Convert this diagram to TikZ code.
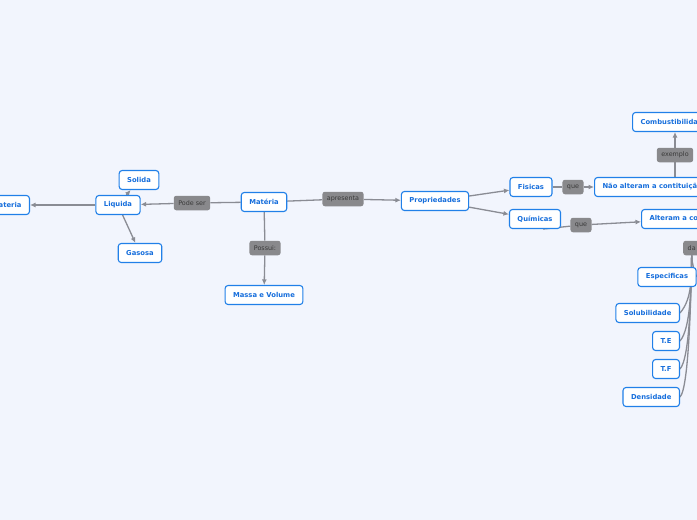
\documentclass[tikz,border=0pt]{standalone}
\usepackage{fontspec}
\setsansfont{DejaVu Sans}
\usetikzlibrary{arrows.meta}
\pgfdeclarelayer{fundo}
\pgfdeclarelayer{linhas}
\pgfsetlayers{fundo,linhas,main}
\definecolor{fundo}{RGB}{242,245,253}
\definecolor{azul}{RGB}{33,128,232}
\definecolor{azultxt}{RGB}{22,110,220}
\definecolor{cinza}{RGB}{137,137,140}
\definecolor{cinzatxt}{RGB}{58,58,58}
\definecolor{linha}{RGB}{138,140,148}
\tikzset{
  box/.style={draw=azul, line width=1.1pt, fill=white, rounded corners=3pt, text=azultxt,
    font=\fontsize{6.8}{8}\sffamily\bfseries, inner xsep=8pt, inner ysep=0pt, minimum height=19pt},
  lbl/.style={fill=cinza, rounded corners=2.5pt, text=cinzatxt,
    font=\fontsize{6.4}{8}\sffamily, inner xsep=4.5pt, inner ysep=0pt, minimum height=14.5pt},
  link/.style={draw=linha, line width=1.3pt},
  seta/.style={link, -{Latex[length=5.5pt,width=5pt]}}
}
\begin{document}
\begin{tikzpicture}[x=1pt,y=-1pt]
% Fundo
\begin{pgfonlayer}{fundo}
\fill[fundo] (0,0) rectangle (697,520);
\end{pgfonlayer}
\useasboundingbox (0,0) rectangle (697,520);

% Materia e estados
\node [box, anchor=east] (materiaesq) at (30,205) {Materia};
\node [box] (liquida) at (118,205) {Liquida};
\node [box] (solida) at (139,180) {Solida};
\node [box] (gasosa) at (140,253) {Gasosa};
\node [lbl] (podeser) at (192,203) {Pode ser};
\node [box] (materia) at (264,202) {Matéria};
\node [lbl] (possui) at (265,248) {Possui:};
\node [box] (massa) at (264,295) {Massa e Volume};

% Propriedades
\node [lbl] (apresenta) at (343,199) {apresenta};
\node [box] (prop) at (435,201) {Propriedades};
\node [box] (fisicas) at (531,187) {Fisicas};
\node [box] (quimicas) at (535,219) {Químicas};
\node [lbl] (que1) at (573,187) {que};
\node [box, anchor=west] (naoalt) at (594,187) {Não alteram a contituição};
\node [lbl] (exemplo) at (675,155) {exemplo};
\node [box, anchor=west] (combust) at (632,122) {Combustibilidade};
\node [lbl] (que2) at (581,225) {que};
\node [box, anchor=west] (alteram) at (641,219) {Alteram a constituição};

% Especificas
\node [lbl, anchor=west] (da) at (683,248) {da};
\node [box] (espec) at (667,277) {Especificas};
\node [box, anchor=east] (solub) at (680,313) {Solubilidade};
\node [box, anchor=east] (te) at (680,341) {T.E};
\node [box, anchor=east] (tf) at (680,369) {T.F};
\node [box, anchor=east] (dens) at (680,397) {Densidade};

% Ligacoes
\begin{pgfonlayer}{linhas}
\draw [link] (materia) -- (podeser);
\draw [seta] (podeser) -- (liquida);
\draw [seta] (liquida) -- (materiaesq);
\draw [seta] (liquida) -- (solida);
\draw [seta] (liquida) -- (gasosa);
\draw [link] (materia) -- (possui);
\draw [seta] (possui) -- (massa);
\draw [link] (materia) -- (apresenta);
\draw [seta] (apresenta) -- (prop);
\draw [seta] (prop) -- (fisicas);
\draw [seta] (prop) -- (quimicas);
\draw [link] (fisicas) -- (que1);
\draw [seta] (que1) -- (naoalt);
\draw [link] (naoalt.north -| exemplo) -- (exemplo);
\draw [seta] (exemplo) -- (combust.south -| exemplo);
\draw [link] ([xshift=8pt]quimicas.south) -- (que2);
\draw [seta] (que2) -- (alteram);
\draw [link] (da.south) .. controls (692,265) and (695,272) .. (espec.east);
\draw [link] (da.south) .. controls (691,275) and (693,298) .. (solub.east);
\draw [link] (da.south) .. controls (691,285) and (691,328) .. (te.east);
\draw [link] (da.south) .. controls (691,290) and (690,358) .. (tf.east);
\draw [link] (da.south) .. controls (691,295) and (689,388) .. (dens.east);
\end{pgfonlayer}
\end{tikzpicture}
\end{document}
